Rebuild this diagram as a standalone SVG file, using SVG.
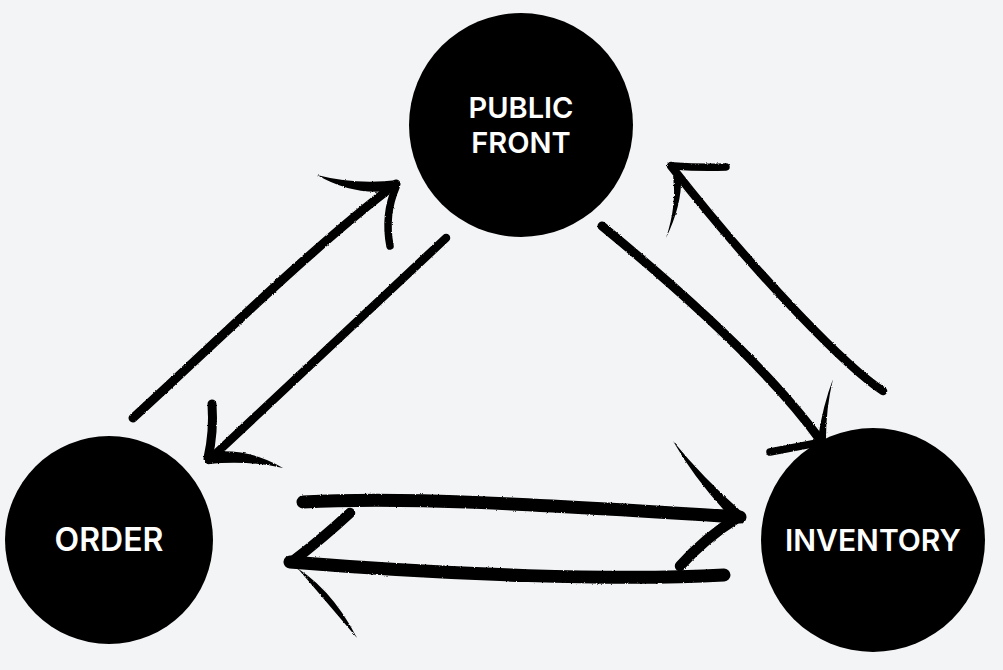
<svg xmlns="http://www.w3.org/2000/svg" width="1003" height="670" viewBox="0 0 1003 670">
  <defs>
    <filter id="rough" x="-10%" y="-10%" width="120%" height="120%">
      <feTurbulence type="fractalNoise" baseFrequency="0.9" numOctaves="2" seed="3" result="n"/>
      <feDisplacementMap in="SourceGraphic" in2="n" scale="2.2" xChannelSelector="R" yChannelSelector="G"/>
    </filter>
  </defs>
  <style>
    .node { fill: #000000; }
    .label { fill: #ffffff; font-family: Inter, "Noto Sans", "Liberation Sans", sans-serif; font-weight: 600; font-size: 29px; text-anchor: middle; }
    .stroke { fill: none; stroke: #000000; stroke-linecap: round; stroke-linejoin: round; }
    .wedge { fill: #000000; stroke: none; }
  </style>
  <rect x="0" y="0" width="1003" height="670" fill="#f3f4f6"/>

  <g id="connectors" filter="url(#rough)">
    <!-- Order to Public Front -->
    <g id="order-to-public">
      <path class="stroke" stroke-width="9" d="M133,418 C210,348 320,240 396,184"/>
      <path class="wedge" d="M317,175 Q355,185 398,180 L395,190 Q355,197 317,175 Z"/>
      <path class="stroke" stroke-width="7.5" d="M396,187 Q384,215 390,246"/>
    </g>
    <!-- Public Front to Order -->
    <g id="public-to-order">
      <path class="stroke" stroke-width="8.5" d="M446,238 L209,460"/>
      <path class="stroke" stroke-width="9" d="M212,404 Q214,432 208,458"/>
      <path class="wedge" d="M210,452 Q250,448 283,468 Q248,460 208,464 Z"/>
    </g>
    <!-- Public Front to Inventory -->
    <g id="public-to-inventory">
      <path class="stroke" stroke-width="9" d="M602,226 C680,290 770,370 821,441"/>
      <path class="wedge" d="M833,379 Q823,405 818,438 L826,439 Q826,408 833,379 Z"/>
      <path class="stroke" stroke-width="7.5" d="M770,452 L817,443"/>
    </g>
    <!-- Inventory to Public Front -->
    <g id="inventory-to-public">
      <path class="stroke" stroke-width="8.5" d="M883,391 C850,370 760,280 671,166"/>
      <path class="stroke" stroke-width="7.5" d="M674,166 Q700,168 726,167"/>
      <path class="wedge" d="M673,176 Q677,205 666,238 Q682,205 681,178 Z"/>
    </g>
    <!-- Order to Inventory -->
    <g id="order-to-inventory">
      <path class="stroke" stroke-width="13" d="M303,502 C400,497 520,503 740,517"/>
      <path class="wedge" d="M673,441 Q695,480 733,520 L743,513 Q703,478 673,441 Z"/>
      <path class="stroke" stroke-width="10.5" d="M737,518 Q705,538 680,566"/>
    </g>
    <!-- Inventory to Order -->
    <g id="inventory-to-order">
      <path class="stroke" stroke-width="13" d="M724,575 C620,581 450,575 290,562"/>
      <path class="stroke" stroke-width="10.5" d="M293,561 Q323,538 350,513"/>
      <path class="wedge" d="M287,562 Q330,585 357,638 Q318,592 299,570 Z"/>
    </g>
  </g>

  <g id="node-public-front">
    <circle class="node" cx="521" cy="125" r="112"/>
    <text class="label" x="521" y="118">PUBLIC</text>
    <text class="label" x="521" y="153">FRONT</text>
  </g>
  <g id="node-order">
    <circle class="node" cx="109" cy="540" r="104"/>
    <text class="label" x="109" y="551" style="font-size:32px">ORDER</text>
  </g>
  <g id="node-inventory">
    <circle class="node" cx="873" cy="540" r="112"/>
    <text class="label" x="873" y="551" style="font-size:30px">INVENTORY</text>
  </g>
</svg>
